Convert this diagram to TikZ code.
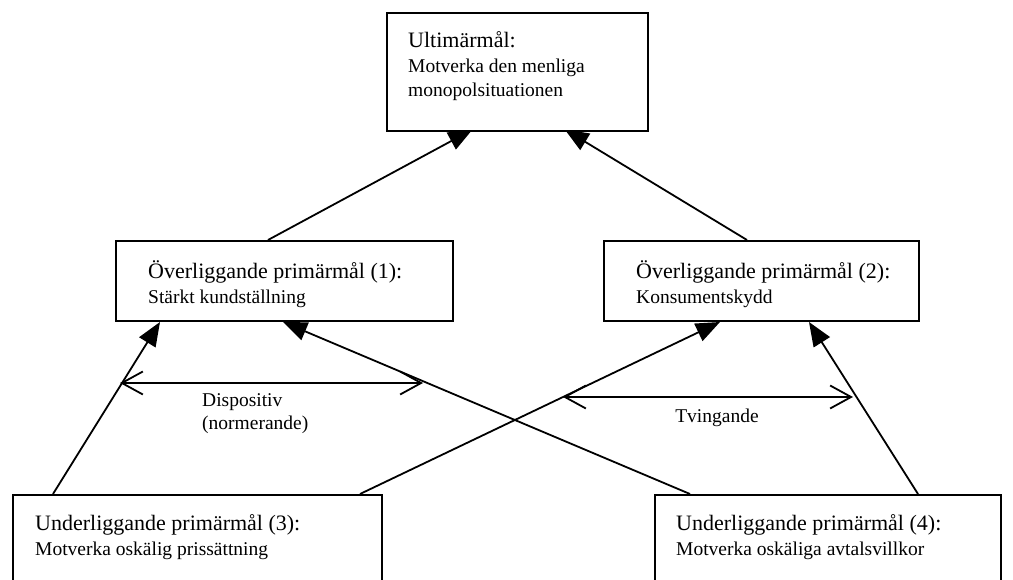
\documentclass[tikz,border=0pt]{standalone}
\usepackage{fontspec}
\setmainfont{Liberation Serif}
\usetikzlibrary{arrows.meta, positioning, calc, backgrounds}

\newcommand{\boxhead}{\fontsize{22}{27}\selectfont}
\newcommand{\boxsub}{\fontsize{19.5}{23.5}\selectfont}

\begin{document}
\begin{tikzpicture}[
   x = 1pt, y = -1pt,
   box/.style = {draw, line width=2pt, fill=white, rectangle, anchor=north west, inner sep=0pt},
   txt/.style = {anchor=north west, align=left, inner sep=0pt, font=\boxsub},
   line/.style = {draw, line width=1.8pt, -{Triangle[length=24pt, width=19pt]}},
   span/.style = {draw, line width=1.8pt, {Straight Barb[length=21pt, width=23pt]}-{Straight Barb[length=21pt, width=23pt]}}
   ]
  \useasboundingbox (0,0) rectangle (1013,580);

  % Ultimate goal
  \node[box, minimum width=261pt, minimum height=118pt] (ultimate) at (386,12) {};
  \node[txt] (ultimatetxt) at ($(ultimate.north west)+(22,19)$)
   {{\boxhead Ultimärmål:}\\[2pt]
   Motverka den menliga\\
   monopolsituationen};

  % Overriding primary goals
  \node[box, minimum width=337pt, minimum height=80pt] (over1) at (115,240) {};
  \node[txt] (over1txt) at ($(over1.north west)+(33,20)$)
   {{\boxhead Överliggande primärmål (1):}\\[2pt]
   Stärkt kundställning};
  \node[box, minimum width=315pt, minimum height=80pt] (over2) at (603,240) {};
  \node[txt] (over2txt) at ($(over2.north west)+(33,20)$)
   {{\boxhead Överliggande primärmål (2):}\\[2pt]
   Konsumentskydd};

  % Underlying primary goals
  \node[box, minimum width=369pt, minimum height=120pt] (under3) at (12,494) {};
  \node[txt] (under3txt) at ($(under3.north west)+(23,20)$)
   {{\boxhead Underliggande primärmål (3):}\\[2pt]
   Motverka oskälig prissättning};
  \node[box, minimum width=346pt, minimum height=120pt] (under4) at (654,494) {};
  \node[txt] (under4txt) at ($(under4.north west)+(22,20)$)
   {{\boxhead Underliggande primärmål (4):}\\[2pt]
   Motverka oskäliga avtalsvillkor};

  % Arrows
  \begin{scope}[on background layer]
  \draw[line, shorten >=-5pt] ($(over1.north west)+(153,0)$) -- ($(ultimate.south west)+(82,0)$);
  \draw[line, shorten >=-5pt] ($(over2.north west)+(144,0)$) -- ($(ultimate.south west)+(183,0)$);
  \end{scope}
  \draw[line] ($(under3.north west)+(41,0)$) -- ($(over1.south west)+(45,0)$);
  \draw[line] ($(under4.north west)+(36,0)$) -- ($(over1.south west)+(168,0)$);
  \draw[line] ($(under3.north west)+(348,0)$) -- ($(over2.south west)+(117,0)$);
  \draw[line] ($(under4.north west)+(264,0)$) -- ($(over2.south west)+(206,0)$);

  % Dispositive / mandatory
  \coordinate (dispL) at (120,383);
  \coordinate (dispR) at (423,383);
  \draw[span] (dispL) -- (dispR);
  \node[txt] (disp) at (202,393) {Dispositiv\\(normerande)};
  \coordinate (tvingL) at (563,397);
  \coordinate (tvingR) at (853,397);
  \draw[span] (tvingL) -- (tvingR);
  \node[font=\boxsub, inner sep=0pt] (tving) at (717,418) {Tvingande};
\end{tikzpicture}
\end{document}
